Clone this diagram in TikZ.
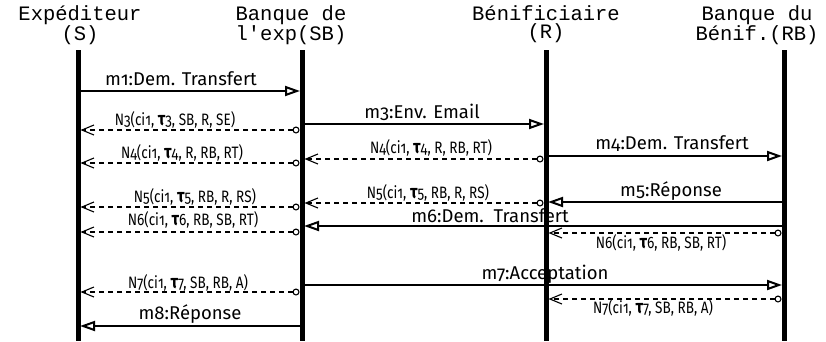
\documentclass[tikz,border=0pt]{standalone}
\usepackage{fontspec}
\setmainfont{Fira Sans}[Numbers=OldStyle]
\newfontfamily\headfont{Liberation Mono}
\newfontfamily\notefont{Fira Sans}[Numbers=OldStyle, FakeStretch=0.82]
\usetikzlibrary{arrows.meta}
\newcommand\tauB{{\fontsize{19}{19}\selectfont\bfseries τ}}

\begin{document}
\begin{tikzpicture}[x=1pt, y=-1pt,
    head/.style={font=\headfont\fontsize{20.5}{18.5}\selectfont, align=center, inner sep=0pt, anchor=north},
    life/.style={line width=5pt},
    msg/.style={line width=2pt, -{Triangle[open, length=15pt, width=10pt]}, shorten >=2pt},
    note/.style={line width=1.1pt, dash pattern=on 5pt off 4pt,
      {Circle[open, length=7pt]}-{Straight Barb[length=12pt, width=10pt]},
      shorten <=2.5pt, shorten >=2.5pt},
    lbl/.style={font=\fontsize{18.5}{20}\selectfont, inner sep=0pt, anchor=base},
    nlbl/.style={font=\notefont\fontsize{16.5}{18}\selectfont, inner sep=0pt, anchor=base}]
  \useasboundingbox (0,0) rectangle (826,341);
  \node[head] (hS) at (80,5) {Expéditeur\\(S)};
  \node[head] (hSB) at (291,5) {Banque de\\l'exp(SB)};
  \node[head] (hR) at (546,5) {Bénificiaire\\(R)};
  \node[head] (hRB) at (757,5) {Banque du\\Bénif.(RB)};
  \coordinate (S) at (78,50);
  \coordinate (SB) at (302,50);
  \coordinate (R) at (546,50);
  \coordinate (RB) at (784,50);
  \foreach \n in {S,SB,R,RB}
    \draw[life] (\n) -- (\n |- 0,341);
  \draw[msg] (S |- 0,91) -- (SB |- 0,91);
  \draw[note] (SB |- 0,130) -- (S |- 0,130);
  \draw[msg] (SB |- 0,124) -- (R |- 0,124);
  \draw[note] (SB |- 0,163) -- (S |- 0,163);
  \draw[note] (R |- 0,159) -- (SB |- 0,159);
  \draw[msg] (R |- 0,156) -- (RB |- 0,156);
  \draw[msg] (RB |- 0,202) -- (R |- 0,202);
  \draw[note] (R |- 0,203) -- (SB |- 0,203);
  \draw[note] (SB |- 0,207) -- (S |- 0,207);
  \draw[msg] (RB |- 0,226) -- (SB |- 0,226);
  \draw[note] (SB |- 0,232) -- (S |- 0,232);
  \draw[note] (RB |- 0,233) -- (R |- 0,233);
  \draw[msg] (SB |- 0,285) -- (RB |- 0,285);
  \draw[note] (SB |- 0,292) -- (S |- 0,292);
  \draw[note] (RB |- 0,299) -- (R |- 0,299);
  \draw[msg] (SB |- 0,326) -- (S |- 0,326);
  \node[lbl] (t1) at (181,85) {m1:Dem. Transfert};
  \node[nlbl] (n3) at (175,125) {N3(ci1, \tauB3, SB, R, SE)};
  \node[lbl] (t3) at (422,118) {m3:Env. Email};
  \node[nlbl] (n4a) at (182,158) {N4(ci1, \tauB4, R, RB, RT)};
  \node[nlbl] (n4b) at (431,153) {N4(ci1, \tauB4, R, RB, RT)};
  \node[lbl] (t4) at (672,149) {m4:Dem. Transfert};
  \node[lbl] (t5) at (671,196) {m5:Réponse};
  \node[nlbl] (n5b) at (428,198) {N5(ci1, \tauB5, RB, R, RS)};
  \node[nlbl] (n5a) at (195,202) {N5(ci1, \tauB5, RB, R, RS)};
  \node[lbl] (t6) at (490,222) {m6:Dem.\ \ Transfert};
  \node[nlbl] (n6a) at (193,225) {N6(ci1, \tauB6, RB, SB, RT)};
  \node[nlbl] (n6b) at (661,248) {N6(ci1, \tauB6, RB, SB, RT)};
  \node[lbl] (t7) at (545,279) {m7:Acceptation};
  \node[nlbl] (n7a) at (188,288) {N7(ci1, \tauB7, SB, RB, A)};
  \node[nlbl] (n7b) at (653,313) {N7(ci1, \tauB7, SB, RB, A)};
  \node[lbl] (t8) at (190,319) {m8:Réponse};
\end{tikzpicture}
\end{document}
